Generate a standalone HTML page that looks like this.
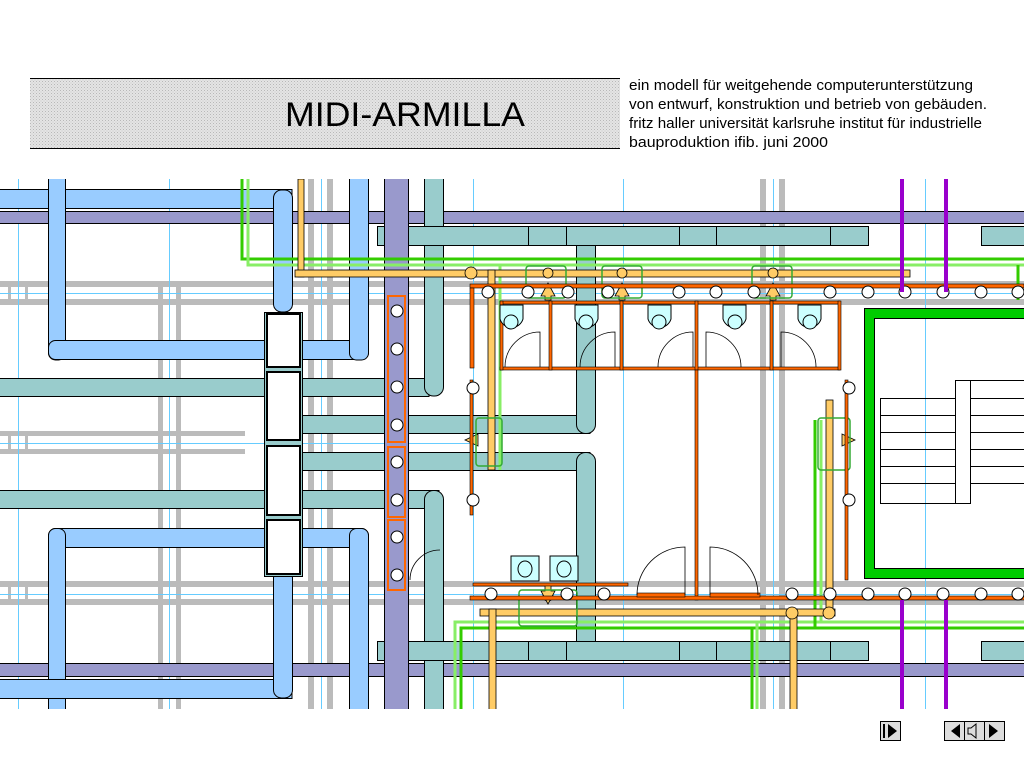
<!DOCTYPE html>
<html><head><meta charset="utf-8"><style>
html,body{margin:0;padding:0;background:#fff;width:1024px;height:768px;overflow:hidden}
svg{display:block}
text{font-family:"Liberation Sans",sans-serif}
</style></head><body>
<svg width="1024" height="768" viewBox="0 0 1024 768" xmlns="http://www.w3.org/2000/svg">
<defs>
<pattern id="h" width="3" height="3" patternUnits="userSpaceOnUse"><rect width="3" height="3" fill="#e4e4e4"/><rect width="1" height="1" fill="#b8b8b8"/><rect x="1.5" y="1.5" width="1" height="1" fill="#c8c8c8"/></pattern>
<clipPath id="c"><rect x="0" y="179" width="1024" height="530"/></clipPath>
</defs>
<!-- header -->
<rect x="30" y="78" width="590" height="71" fill="url(#h)"/>
<line x1="30" y1="78.5" x2="620" y2="78.5" stroke="#000"/>
<line x1="30" y1="148.5" x2="620" y2="148.5" stroke="#000"/>
<text x="405" y="126" font-size="34" text-anchor="middle" textLength="240" lengthAdjust="spacingAndGlyphs">MIDI-ARMILLA</text>
<g font-size="15">
<text x="629" y="90" textLength="344" lengthAdjust="spacingAndGlyphs">ein modell für weitgehende computerunterstützung</text>
<text x="629" y="109" textLength="358" lengthAdjust="spacingAndGlyphs">von entwurf, konstruktion und betrieb von gebäuden.</text>
<text x="629" y="128" textLength="353" lengthAdjust="spacingAndGlyphs">fritz haller universität karlsruhe institut für industrielle</text>
<text x="629" y="147" textLength="199" lengthAdjust="spacingAndGlyphs">bauproduktion ifib.  juni 2000</text>
</g>

<g clip-path="url(#c)">
<!-- gray structure -->
<g fill="#bbb">
<rect x="0" y="281" width="1024" height="6"/><rect x="0" y="299" width="1024" height="6"/>
<rect x="0" y="431" width="245" height="5"/><rect x="0" y="449" width="245" height="5"/>
<rect x="0" y="581" width="1024" height="6"/><rect x="0" y="599" width="1024" height="6"/>
<rect x="158" y="283" width="5" height="426"/><rect x="176" y="283" width="5" height="426"/>
<rect x="308" y="179" width="6" height="530"/><rect x="327" y="179" width="6" height="530"/>
<rect x="760" y="179" width="6" height="530"/><rect x="779" y="179" width="6" height="530"/>
<rect x="8" y="283" width="3" height="22"/><rect x="25" y="283" width="3" height="22"/>
<rect x="8" y="433" width="3" height="20"/><rect x="25" y="433" width="3" height="20"/>
<rect x="8" y="583" width="3" height="22"/><rect x="25" y="583" width="3" height="22"/>
</g>
<!-- blue grid lines -->
<g stroke="#66ccff" stroke-width="1">
<line x1="18.5" y1="179" x2="18.5" y2="709"/><line x1="169.5" y1="179" x2="169.5" y2="709"/><line x1="321.5" y1="179" x2="321.5" y2="709"/><line x1="473.5" y1="179" x2="473.5" y2="709"/><line x1="623.5" y1="179" x2="623.5" y2="709"/><line x1="773.5" y1="179" x2="773.5" y2="709"/><line x1="925.5" y1="179" x2="925.5" y2="709"/>
<line x1="0" y1="293.5" x2="1024" y2="293.5"/><line x1="0" y1="443.5" x2="470" y2="443.5"/><line x1="0" y1="594.5" x2="1024" y2="594.5"/>
</g>
<!-- purple bands -->
<g fill="#9999cc" stroke="#000">
<rect x="-1" y="211.5" width="1026" height="12"/>
<rect x="-1" y="663.5" width="1026" height="13"/>
</g>
<!-- light blue ducts -->
<g fill="#99ccff" stroke="#000">
<rect x="-1" y="189.5" width="293" height="19"/>
<rect x="273.5" y="190" width="19" height="122" rx="8"/>
<rect x="48.5" y="170" width="17" height="190" rx="7"/>
<rect x="48.5" y="340.5" width="320" height="19" rx="7"/>
<rect x="349.5" y="170" width="19" height="190" rx="7"/>
<rect x="48.5" y="528.5" width="320" height="19" rx="7"/>
<rect x="48.5" y="528.5" width="17" height="200" rx="7"/>
<rect x="349.5" y="528.5" width="19" height="200" rx="7"/>
<rect x="-1" y="679.5" width="293" height="19"/>
<rect x="273.5" y="570" width="19" height="128" rx="8"/>
</g>
<!-- teal ducts -->
<g fill="#99cccc" stroke="#000">
<rect x="-1" y="378.5" width="430" height="18"/>
<rect x="424.5" y="170" width="19" height="226" rx="9"/>
<rect x="300" y="415.5" width="290" height="18"/>
<rect x="300" y="452.5" width="290" height="18"/>
<rect x="576.5" y="228.5" width="19" height="205" rx="9"/>
<rect x="576.5" y="452.5" width="19" height="208" rx="9"/>
<rect x="-1" y="490.5" width="440" height="18"/>
<rect x="424.5" y="490.5" width="19" height="240" rx="9"/>
<rect x="377.5" y="226.5" width="491" height="19"/>
<rect x="981.5" y="226.5" width="50" height="19"/>
<rect x="377.5" y="641.5" width="491" height="19"/>
<rect x="981.5" y="641.5" width="50" height="19"/>
</g>
<g stroke="#000" fill="none">
<line x1="528.5" y1="227" x2="528.5" y2="245"/><line x1="566.5" y1="227" x2="566.5" y2="245"/><line x1="679.5" y1="227" x2="679.5" y2="245"/><line x1="716.5" y1="227" x2="716.5" y2="245"/><line x1="830.5" y1="227" x2="830.5" y2="245"/>
<line x1="528.5" y1="642" x2="528.5" y2="660"/><line x1="566.5" y1="642" x2="566.5" y2="660"/><line x1="679.5" y1="642" x2="679.5" y2="660"/><line x1="716.5" y1="642" x2="716.5" y2="660"/><line x1="830.5" y1="642" x2="830.5" y2="660"/>
</g>
<!-- purple column -->
<rect x="384.5" y="170" width="24" height="560" fill="#9999cc" stroke="#000"/>
<g fill="none" stroke="#ff6600" stroke-width="2">
<rect x="388" y="296" width="17" height="146" /><rect x="388" y="447" width="17" height="70"/><rect x="388" y="520" width="17" height="70"/>
</g>
<g fill="#fff" stroke="#000">
<circle cx="397" cy="311" r="6"/><circle cx="397" cy="349" r="6"/><circle cx="397" cy="387" r="6"/><circle cx="397" cy="425" r="6"/><circle cx="397" cy="462" r="6"/><circle cx="397" cy="500" r="6"/><circle cx="397" cy="537" r="6"/><circle cx="397" cy="575" r="6"/>
</g>
<!-- boxes column -->
<rect x="264.5" y="312.5" width="38" height="264" fill="#99cccc" stroke="#000"/>
<g fill="#fff" stroke="#000" stroke-width="2">
<rect x="267" y="314" width="33" height="53"/><rect x="267" y="372" width="33" height="68"/><rect x="267" y="446" width="33" height="69"/><rect x="267" y="520" width="33" height="54"/>
</g>
<!-- green pipes -->
<g stroke-width="3" fill="none">
<path d="M242 179 V259 H1024" stroke="#33cc00"/>
<path d="M248 179 V265 H1024" stroke="#88ee66"/>
<path d="M455 709 V622 H1024" stroke="#88ee66"/>
<path d="M461 709 V628 H1024" stroke="#33cc00"/>
<path d="M752 709 V628" stroke="#33cc00"/><path d="M757 709 V622" stroke="#88ee66"/>
<path d="M815 628 V420" stroke="#33cc00"/><path d="M821 622 V420" stroke="#88ee66"/>
<path d="M500 265 V470" stroke="#88ee66"/>
<path d="M1018 265 V300" stroke="#33cc00"/>
</g>
<!-- orange pipes -->
<g fill="#ffcc66" stroke="#000" stroke-width="0.8">
<rect x="298" y="179" width="6" height="98"/>
<rect x="295" y="270" width="615" height="7"/>
<rect x="488" y="270" width="7" height="200"/>
<rect x="480" y="609" width="355" height="7"/>
<rect x="489" y="609" width="7" height="110"/>
<rect x="790" y="609" width="7" height="110"/>
<rect x="826" y="400" width="7" height="215"/>
<circle cx="471" cy="273" r="6"/><circle cx="548" cy="273" r="5"/><circle cx="622" cy="273" r="5"/><circle cx="773" cy="273" r="5"/>
<circle cx="548" cy="596" r="5"/><circle cx="792" cy="613" r="6"/><circle cx="829" cy="613" r="6"/>
<path d="M541 296 L548 283 L555 296 L551 296 L551 300 L545 300 L545 296Z"/>
<path d="M615 296 L622 283 L629 296 L625 296 L625 300 L619 300 L619 296Z"/>
<path d="M766 296 L773 283 L780 296 L776 296 L776 300 L770 300 L770 296Z"/>
<path d="M541 591 L548 604 L555 591 L551 591 L551 585 L545 585 L545 591Z"/>
<path d="M465 440 L478 434 L478 446Z"/><path d="M855 440 L842 434 L842 446Z"/>
</g>
<g fill="none" stroke="#33aa33" stroke-width="1.5">
<rect x="526" y="266" width="40" height="32" rx="3"/><rect x="602" y="266" width="40" height="32" rx="3"/><rect x="752" y="266" width="40" height="32" rx="3"/>
<rect x="476" y="418" width="26" height="48" rx="3"/><rect x="818" y="418" width="32" height="52" rx="3"/>
<rect x="519" y="590" width="58" height="36" rx="3"/>
</g>
<!-- orange walls -->
<g fill="#ff6600" stroke="#000" stroke-width="0.6">
<rect x="470" y="284" width="554" height="4"/>
<rect x="470" y="288" width="4" height="80"/>
<rect x="500" y="301" width="340" height="3"/>
<rect x="500" y="367" width="340" height="3"/>
<rect x="500" y="301" width="3" height="69"/><rect x="549" y="301" width="3" height="69"/><rect x="620" y="301" width="3" height="69"/><rect x="695" y="301" width="3" height="69"/><rect x="770" y="301" width="3" height="69"/><rect x="838" y="301" width="3" height="69"/>
<rect x="695" y="370" width="3" height="230"/>
<rect x="470" y="380" width="3" height="135"/><rect x="845" y="380" width="3" height="200"/>
<rect x="470" y="596" width="560" height="4"/>
<rect x="473" y="583" width="155" height="3"/>
<rect x="637" y="593" width="48" height="4"/><rect x="710" y="593" width="50" height="4"/>
</g>
<!-- toilets -->
<g fill="#ccffff" stroke="#000">
<path d="M500 305 h23 v14 a12 12 0 0 1 -23 0Z"/><circle cx="511" cy="322" r="7"/>
<path d="M575 305 h23 v14 a12 12 0 0 1 -23 0Z"/><circle cx="586" cy="322" r="7"/>
<path d="M648 305 h23 v14 a12 12 0 0 1 -23 0Z"/><circle cx="659" cy="322" r="7"/>
<path d="M723 305 h23 v14 a12 12 0 0 1 -23 0Z"/><circle cx="735" cy="322" r="7"/>
<path d="M798 305 h23 v14 a12 12 0 0 1 -23 0Z"/><circle cx="810" cy="322" r="7"/>
<rect x="511" y="556" width="28" height="25"/><ellipse cx="525" cy="569" rx="7" ry="8"/>
<rect x="550" y="556" width="28" height="25"/><ellipse cx="564" cy="569" rx="7" ry="8"/>
</g>
<g fill="none" stroke="#000" stroke-width="0.8">
<path d="M505 367 a35 35 0 0 1 35 -35 V367"/><path d="M580 367 a35 35 0 0 1 35 -35 V367"/>
<path d="M658 367 a35 35 0 0 1 35 -35 V367"/><path d="M706 367 V332 a35 35 0 0 1 35 35"/><path d="M781 367 V332 a35 35 0 0 1 35 35"/>
<path d="M637 595 a48 48 0 0 1 48 -48 V595"/><path d="M710 595 V547 a48 48 0 0 1 48 48"/>
<path d="M410 580 a30 30 0 0 1 30 -30"/>
</g>
<!-- circles rows -->
<g fill="#fff" stroke="#000">
<circle cx="488" cy="292" r="6"/><circle cx="528" cy="292" r="6"/><circle cx="568" cy="292" r="6"/><circle cx="608" cy="292" r="6"/><circle cx="679" cy="292" r="6"/><circle cx="716" cy="292" r="6"/><circle cx="754" cy="292" r="6"/><circle cx="830" cy="292" r="6"/><circle cx="868" cy="292" r="6"/><circle cx="905" cy="292" r="6"/><circle cx="943" cy="292" r="6"/><circle cx="981" cy="292" r="6"/><circle cx="1018" cy="292" r="6"/>
<circle cx="473" cy="388" r="6"/><circle cx="849" cy="388" r="6"/><circle cx="849" cy="500" r="6"/>
<circle cx="473" cy="500" r="6"/>
<circle cx="491" cy="594" r="6"/><circle cx="567" cy="594" r="6"/><circle cx="604" cy="594" r="6"/><circle cx="792" cy="594" r="6"/><circle cx="830" cy="594" r="6"/><circle cx="868" cy="594" r="6"/><circle cx="905" cy="594" r="6"/><circle cx="943" cy="594" r="6"/><circle cx="981" cy="594" r="6"/><circle cx="1018" cy="594" r="6"/>
</g>
<!-- purple lines -->
<g stroke="#9900cc" stroke-width="4">
<line x1="902" y1="179" x2="902" y2="292"/><line x1="946" y1="179" x2="946" y2="292"/>
<line x1="902" y1="600" x2="902" y2="709"/><line x1="946" y1="600" x2="946" y2="709"/>
</g>
<!-- stair box -->
<rect x="869" y="313" width="165" height="260" fill="none" stroke="#00cc00" stroke-width="10"/>
<rect x="864.5" y="308.5" width="170" height="270" fill="none" stroke="#000"/>
<rect x="874.5" y="318.5" width="160" height="250" fill="none" stroke="#000"/>
<g stroke="#000" fill="none">
<rect x="880.5" y="398.5" width="75" height="105"/><rect x="955.5" y="380.5" width="15" height="123"/>
<line x1="880" y1="415.5" x2="955" y2="415.5"/><line x1="880" y1="432.5" x2="955" y2="432.5"/><line x1="880" y1="449.5" x2="955" y2="449.5"/><line x1="880" y1="466.5" x2="955" y2="466.5"/><line x1="880" y1="483.5" x2="955" y2="483.5"/>
<line x1="970" y1="398.5" x2="1024" y2="398.5"/><line x1="970" y1="415.5" x2="1024" y2="415.5"/><line x1="970" y1="432.5" x2="1024" y2="432.5"/><line x1="970" y1="449.5" x2="1024" y2="449.5"/><line x1="970" y1="466.5" x2="1024" y2="466.5"/><line x1="970" y1="483.5" x2="1024" y2="483.5"/><line x1="970" y1="380.5" x2="1024" y2="380.5"/>
</g>
</g>

<!-- buttons -->
<g stroke="#000" fill="#ddd">
<rect x="880.5" y="721.5" width="20" height="19"/>
<rect x="944.5" y="721.5" width="60" height="19"/>
<line x1="964.5" y1="722" x2="964.5" y2="740"/><line x1="984.5" y1="722" x2="984.5" y2="740"/>
</g>
<rect x="883" y="724" width="2" height="14" fill="#000"/>
<path d="M888 724 L897 731 L888 738Z" fill="#000"/>
<path d="M960 724 L951 731 L960 738Z" fill="#000"/>
<path d="M989 724 L998 731 L989 738Z" fill="#000"/>
<path d="M968 728 h3 l5 -4 v14 l-5 -4 h-3Z" fill="none" stroke="#000"/>
</svg>
</body></html>
